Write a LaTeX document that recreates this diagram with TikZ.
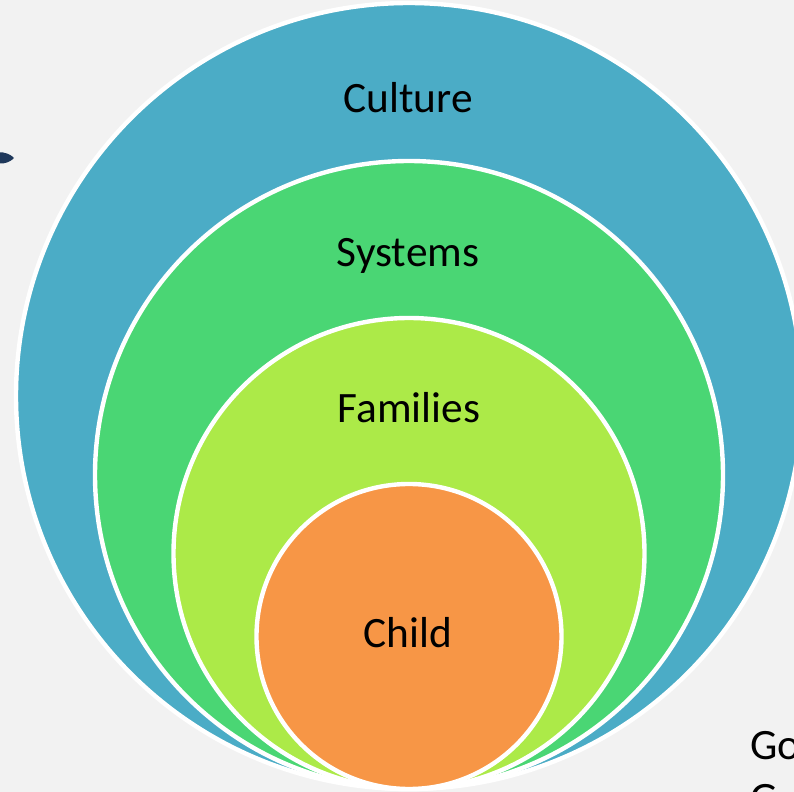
\documentclass[tikz,border=0pt]{standalone}
\usepackage{fontspec}
\setmainfont{Carlito}
\definecolor{bggray}{RGB}{242,242,242}
\definecolor{culture}{RGB}{75,172,198}
\definecolor{systems}{RGB}{74,214,116}
\definecolor{families}{RGB}{172,234,72}
\definecolor{child}{RGB}{247,150,70}
\definecolor{navy}{RGB}{31,56,91}

\begin{document}
\begin{tikzpicture}[x=0.75pt,y=0.75pt]
\tikzset{ring/.style={draw=white,line width=3.3pt},
  ringlabel/.style={font=\fontsize{32.5}{38}\selectfont,anchor=base}}
% Define the page and the background

\useasboundingbox (0,0) rectangle (794,-792);
\fill[bggray] (0,0) rectangle (794,-792);

% Define the centres of the circles, all touching at the bottom
\path (409,-396) coordinate (Oculture);
\path (409,-475) coordinate (Osystems);
\path (409,-553.5) coordinate (Ofamilies);
\path (409,-636.5) coordinate (Ochild);

% Draw the circles from the outside in
\filldraw[fill=culture,ring] (Oculture) circle[radius=393];
\filldraw[fill=systems,ring] (Osystems) circle[radius=314];
\filldraw[fill=families,ring] (Ofamilies) circle[radius=235.5];
\filldraw[fill=child,ring] (Ochild) circle[radius=152.5];

% Add the labels
\node[ringlabel] (culturelabel) at (408,-113) {Culture};
\node[ringlabel] (systemslabel) at (408,-267) {Systems};
\node[ringlabel] (familieslabel) at (409,-422) {Families};
\node[ringlabel] (childlabel) at (408,-647) {Child};

% Text running off the page at the bottom right
\node[ringlabel,anchor=base west,inner sep=0pt] (goline) at (750,-759) {Go};
\node[ringlabel,anchor=base west,inner sep=0pt] (gline) at (750,-812) {G};

% Tip of an arrow coming in from the left
\path (14,-158) coordinate (arrowtip);
\fill[navy] (0,-152.5) -- (3,-152.5) .. controls (9,-153.5) and (12,-156) .. (arrowtip)
  .. controls (12,-160) and (9,-162.5) .. (3,-163.5) -- (0,-163.5) -- cycle;
\end{tikzpicture}
\end{document}
